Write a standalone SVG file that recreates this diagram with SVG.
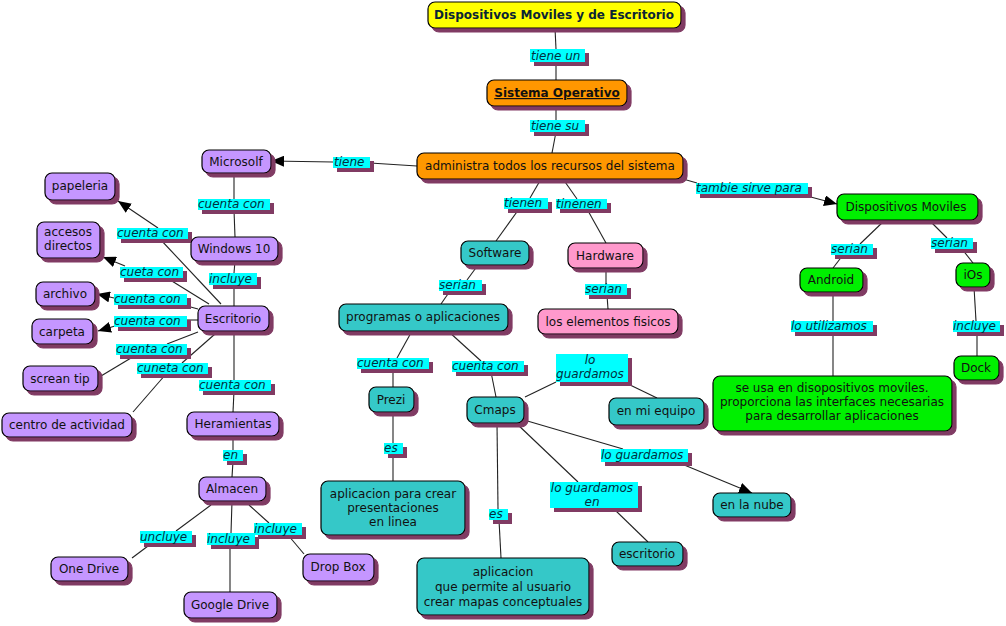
<svg xmlns="http://www.w3.org/2000/svg" width="1006" height="626" viewBox="0 0 1006 626">
<defs>
<filter id="sh" x="-10%" y="-10%" width="130%" height="150%">
<feFlood flood-color="#803a63"/>
<feComposite in2="SourceAlpha" operator="in"/>
<feOffset dx="4" dy="4" result="s"/>
<feMerge><feMergeNode in="s"/><feMergeNode in="SourceGraphic"/></feMerge>
</filter>
<marker id="arr" markerUnits="userSpaceOnUse" markerWidth="13" markerHeight="11" refX="13" refY="5.5" orient="auto">
<path d="M0,0 L13,5.5 L0,11 Z" fill="#000"/>
</marker>
</defs>
<style>
text{font-family:"DejaVu Sans",Verdana,sans-serif;font-size:12px;fill:#111;}
.n{stroke:#000;stroke-width:1.2;filter:url(#sh);}
.y{fill:#ffff00}.o{fill:#ff9700}.p{fill:#c596ff}.t{fill:#34c8c8}.k{fill:#ff99cc}.g{fill:#00f000}
.l{fill:#00ffff;filter:url(#sh);}
.lt{font-style:italic;fill:#003040;}
.c{text-anchor:middle}
.b{font-weight:bold;fill:#0a2535}
line{stroke:#222;stroke-width:1.1}
</style>
<rect width="1006" height="626" fill="#fff"/>
<g id="connectors">
<line x1="555" y1="28" x2="556" y2="49"/><line x1="556" y1="62" x2="556" y2="80"/>
<line x1="556" y1="106" x2="556" y2="120"/><line x1="556" y1="132" x2="552" y2="153"/>
<line x1="417" y1="166" x2="370" y2="163"/><line x1="333" y1="162" x2="271" y2="161" marker-end="url(#arr)"/>
<line x1="234" y1="173" x2="234" y2="199"/><line x1="234" y1="210" x2="235" y2="237"/>
<line x1="235" y1="261" x2="234" y2="273"/><line x1="234" y1="285" x2="234" y2="306"/>
<line x1="221" y1="304" x2="160" y2="239"/><line x1="158" y1="228" x2="118" y2="201" marker-end="url(#arr)"/>
<line x1="209" y1="304" x2="167" y2="278"/><line x1="125" y1="266" x2="103" y2="257" marker-end="url(#arr)"/>
<line x1="198" y1="309" x2="187" y2="306"/><line x1="114" y1="298" x2="97" y2="294" marker-end="url(#arr)"/>
<line x1="198" y1="320" x2="187" y2="320"/><line x1="115" y1="326" x2="98" y2="331" marker-end="url(#arr)"/>
<line x1="198" y1="332" x2="167" y2="344"/><line x1="136" y1="355" x2="101" y2="376"/>
<line x1="215" y1="334" x2="182" y2="363"/><line x1="166" y1="374" x2="133" y2="412"/>
<line x1="234" y1="331" x2="234" y2="380"/><line x1="234" y1="391" x2="233" y2="412"/>
<line x1="233" y1="436" x2="233" y2="450"/><line x1="233" y1="461" x2="232" y2="477"/>
<line x1="211" y1="505" x2="176" y2="531"/><line x1="152" y1="543" x2="132" y2="558"/>
<line x1="232" y1="501" x2="231" y2="533"/><line x1="230" y1="545" x2="230" y2="592"/>
<line x1="249" y1="505" x2="269" y2="523"/><line x1="288" y1="535" x2="304" y2="554"/>
<line x1="541" y1="179" x2="530" y2="198"/><line x1="519" y1="209" x2="496" y2="241"/>
<line x1="563" y1="179" x2="577" y2="199"/><line x1="587" y1="209" x2="606" y2="243"/>
<line x1="478" y1="265" x2="467" y2="280"/><line x1="450" y1="291" x2="441" y2="304"/>
<line x1="606" y1="268" x2="606" y2="284"/><line x1="607" y1="295" x2="608" y2="309"/>
<line x1="412" y1="331" x2="397" y2="358"/><line x1="393" y1="369" x2="393" y2="387"/>
<line x1="448" y1="331" x2="481" y2="361"/><line x1="491" y1="372" x2="496" y2="397"/>
<line x1="525" y1="397" x2="556" y2="382"/><line x1="628" y1="384" x2="657" y2="398"/>
<line x1="524" y1="420" x2="623" y2="449"/><line x1="677" y1="462" x2="752" y2="493" marker-end="url(#arr)"/>
<line x1="516" y1="423" x2="578" y2="482"/><line x1="613" y1="508" x2="648" y2="542"/>
<line x1="497" y1="423" x2="498" y2="509"/><line x1="499" y1="520" x2="501" y2="558"/>
<line x1="393" y1="412" x2="393" y2="443"/><line x1="393" y1="454" x2="393" y2="481"/>
<line x1="683" y1="179" x2="697" y2="183"/><line x1="807" y1="196" x2="837" y2="204" marker-end="url(#arr)"/>
<line x1="885" y1="220" x2="860" y2="244"/><line x1="843" y1="255" x2="833" y2="268"/>
<line x1="929" y1="220" x2="947" y2="238"/><line x1="962" y1="249" x2="973" y2="263"/>
<line x1="833" y1="292" x2="833" y2="321"/><line x1="833" y1="332" x2="833" y2="376"/>
<line x1="974" y1="287" x2="976" y2="321"/><line x1="977" y1="332" x2="977" y2="356"/>
</g>
<g id="labels">
<rect class="l" x="530" y="49" width="55" height="13"/><text class="lt" x="531" y="60">tiene un</text>
<rect class="l" x="530" y="120" width="55" height="12"/><text class="lt" x="531" y="130">tiene su</text>
<rect class="l" x="333" y="157" width="37" height="11"/><text class="lt" x="334" y="166">tiene</text>
<rect class="l" x="198" y="199" width="72" height="11"/><text class="lt" x="198" y="208">cuenta con</text>
<rect class="l" x="117" y="228" width="71" height="11"/><text class="lt" x="117" y="237">cuenta con</text>
<rect class="l" x="209" y="273" width="48" height="12"/><text class="lt" x="209" y="283">incluye</text>
<rect class="l" x="120" y="267" width="63" height="11"/><text class="lt" x="120" y="276">cueta con</text>
<rect class="l" x="114" y="294" width="73" height="11"/><text class="lt" x="114" y="303">cuenta con</text>
<rect class="l" x="114" y="316" width="73" height="11"/><text class="lt" x="114" y="325">cuenta con</text>
<rect class="l" x="116" y="344" width="71" height="11"/><text class="lt" x="116" y="353">cuenta con</text>
<rect class="l" x="137" y="363" width="71" height="11"/><text class="lt" x="137" y="372">cuneta con</text>
<rect class="l" x="199" y="380" width="72" height="11"/><text class="lt" x="199" y="389">cuenta con</text>
<rect class="l" x="223" y="450" width="20" height="11"/><text class="lt" x="223" y="459">en</text>
<rect class="l" x="140" y="531" width="52" height="12"/><text class="lt" x="140" y="541">uncluye</text>
<rect class="l" x="207" y="533" width="48" height="12"/><text class="lt" x="207" y="543">incluye</text>
<rect class="l" x="254" y="523" width="48" height="12"/><text class="lt" x="254" y="533">incluye</text>
<rect class="l" x="504" y="198" width="44" height="11"/><text class="lt" x="504" y="207">tienen</text>
<rect class="l" x="556" y="199" width="51" height="10"/><text class="lt" x="556" y="208">tinenen</text>
<rect class="l" x="439" y="280" width="43" height="11"/><text class="lt" x="439" y="289">serian</text>
<rect class="l" x="585" y="284" width="42" height="11"/><text class="lt" x="585" y="293">serian</text>
<rect class="l" x="357" y="358" width="72" height="11"/><text class="lt" x="357" y="367">cuenta con</text>
<rect class="l" x="452" y="361" width="72" height="11"/><text class="lt" x="452" y="370">cuenta con</text>
<rect class="l" x="556" y="354" width="72" height="28"/><text class="lt c" x="590" y="364">lo<tspan x="590" dy="14">guardamos</tspan></text>
<rect class="l" x="384" y="443" width="19" height="11"/><text class="lt" x="384" y="452">es</text>
<rect class="l" x="489" y="509" width="19" height="11"/><text class="lt" x="489" y="518">es</text>
<rect class="l" x="550" y="482" width="88" height="26"/><text class="lt c" x="592" y="492">lo guardamos<tspan x="592" dy="14">en</tspan></text>
<rect class="l" x="601" y="449" width="87" height="13"/><text class="lt" x="601" y="459">lo guardamos</text>
<rect class="l" x="696" y="183" width="112" height="11"/><text class="lt" x="696" y="192">tambie sirve para</text>
<rect class="l" x="831" y="244" width="42" height="11"/><text class="lt" x="831" y="253">serian</text>
<rect class="l" x="931" y="238" width="42" height="11"/><text class="lt" x="931" y="247">serian</text>
<rect class="l" x="791" y="321" width="82" height="11"/><text class="lt" x="791" y="330">lo utilizamos</text>
<rect class="l" x="953" y="321" width="47" height="11"/><text class="lt" x="953" y="330">incluye</text>
</g>
<g id="n-title"><rect class="n y" x="428" y="2" width="253" height="26" rx="7"/><text class="c b" x="554" y="19">Dispositivos Moviles y de Escritorio</text></g>
<g id="n-so"><rect class="n o" x="487" y="80" width="140" height="26" rx="7"/><text class="c b" x="557" y="97" text-decoration="underline" style="fill:#111">Sistema Operativo</text></g>
<g id="n-admin"><rect class="n o" x="417" y="153" width="266" height="26" rx="7"/><text class="c" x="550" y="170">administra todos los recursos del sistema</text></g>
<g id="n-microsolf"><rect class="n p" x="202" y="150" width="69" height="23" rx="7"/><text class="c" x="236" y="166">Microsolf</text></g>
<g id="n-papeleria"><rect class="n p" x="45" y="173" width="70" height="27" rx="7"/><text class="c" x="80" y="190">papeleria</text></g>
<g id="n-accesos"><rect class="n p" x="37" y="222" width="63" height="36" rx="7"/><text class="c" x="68" y="236">accesos<tspan x="68" dy="14">directos</tspan></text></g>
<g id="n-archivo"><rect class="n p" x="36" y="282" width="59" height="24" rx="7"/><text class="c" x="65" y="298">archivo</text></g>
<g id="n-carpeta"><rect class="n p" x="32" y="319" width="61" height="25" rx="7"/><text class="c" x="62" y="336">carpeta</text></g>
<g id="n-windows"><rect class="n p" x="191" y="237" width="87" height="24" rx="7"/><text class="c" x="234" y="253">Windows 10</text></g>
<g id="n-escritorio"><rect class="n p" x="198" y="306" width="71" height="25" rx="7"/><text class="c" x="233" y="323">Escritorio</text></g>
<g id="n-screan"><rect class="n p" x="23" y="366" width="75" height="25" rx="7"/><text class="c" x="60" y="383">screan tip</text></g>
<g id="n-centro"><rect class="n p" x="2" y="413" width="130" height="24" rx="7"/><text class="c" x="67" y="429">centro de actividad</text></g>
<g id="n-heramientas"><rect class="n p" x="187" y="412" width="92" height="24" rx="7"/><text class="c" x="233" y="428">Heramientas</text></g>
<g id="n-almacen"><rect class="n p" x="199" y="477" width="67" height="24" rx="7"/><text class="c" x="232" y="493">Almacen</text></g>
<g id="n-onedrive"><rect class="n p" x="51" y="557" width="77" height="24" rx="7"/><text class="c" x="89" y="573">One Drive</text></g>
<g id="n-google"><rect class="n p" x="184" y="592" width="93" height="26" rx="7"/><text class="c" x="230" y="609">Google Drive</text></g>
<g id="n-dropbox"><rect class="n p" x="303" y="554" width="71" height="27" rx="7"/><text class="c" x="338" y="571">Drop Box</text></g>
<g id="n-software"><rect class="n t" x="461" y="241" width="68" height="24" rx="7"/><text class="c" x="495" y="257">Software</text></g>
<g id="n-hardware"><rect class="n k" x="568" y="243" width="75" height="25" rx="7"/><text class="c" x="605" y="260">Hardware</text></g>
<g id="n-programas"><rect class="n t" x="339" y="304" width="169" height="27" rx="7"/><text class="c" x="423" y="321">programas o aplicaciones</text></g>
<g id="n-elementos"><rect class="n k" x="538" y="309" width="140" height="25" rx="7"/><text class="c" x="608" y="326">los elementos fisicos</text></g>
<g id="n-prezi"><rect class="n t" x="369" y="387" width="45" height="25" rx="7"/><text class="c" x="391" y="404">Prezi</text></g>
<g id="n-cmaps"><rect class="n t" x="467" y="397" width="57" height="26" rx="7"/><text class="c" x="495" y="414">Cmaps</text></g>
<g id="n-equipo"><rect class="n t" x="609" y="398" width="95" height="27" rx="7"/><text class="c" x="656" y="415">en mi equipo</text></g>
<g id="n-appprezi"><rect class="n t" x="321" y="481" width="144" height="54" rx="7"/><text class="c" x="393" y="498">aplicacion para crear<tspan x="393" dy="14">presentaciones</tspan><tspan x="393" dy="14">en linea</tspan></text></g>
<g id="n-appcmaps"><rect class="n t" x="417" y="558" width="172" height="57" rx="7"/><text class="c" x="503" y="576">aplicacion<tspan x="503" dy="15">que permite al usuario</tspan><tspan x="503" dy="15">crear mapas conceptuales</tspan></text></g>
<g id="n-escritorio2"><rect class="n t" x="612" y="542" width="71" height="24" rx="7"/><text class="c" x="647" y="558">escritorio</text></g>
<g id="n-nube"><rect class="n t" x="713" y="493" width="78" height="24" rx="7"/><text class="c" x="752" y="509">en la nube</text></g>
<g id="n-dispmov"><rect class="n g" x="837" y="194" width="141" height="26" rx="7"/><text class="c" x="906" y="211">Dispositivos Moviles</text></g>
<g id="n-android"><rect class="n g" x="800" y="268" width="63" height="24" rx="7"/><text class="c" x="831" y="284">Android</text></g>
<g id="n-ios"><rect class="n g" x="956" y="263" width="34" height="24" rx="7"/><text class="c" x="973" y="279">iOs</text></g>
<g id="n-dock"><rect class="n g" x="954" y="356" width="45" height="24" rx="7"/><text class="c" x="976" y="372">Dock</text></g>
<g id="n-seusa"><rect class="n g" x="713" y="376" width="239" height="55" rx="7"/><text class="c" x="832" y="392">se usa en disopositivos moviles.<tspan x="832" dy="14">proporciona las interfaces necesarias</tspan><tspan x="832" dy="14">para desarrollar aplicaciones</tspan></text></g>
</svg>
